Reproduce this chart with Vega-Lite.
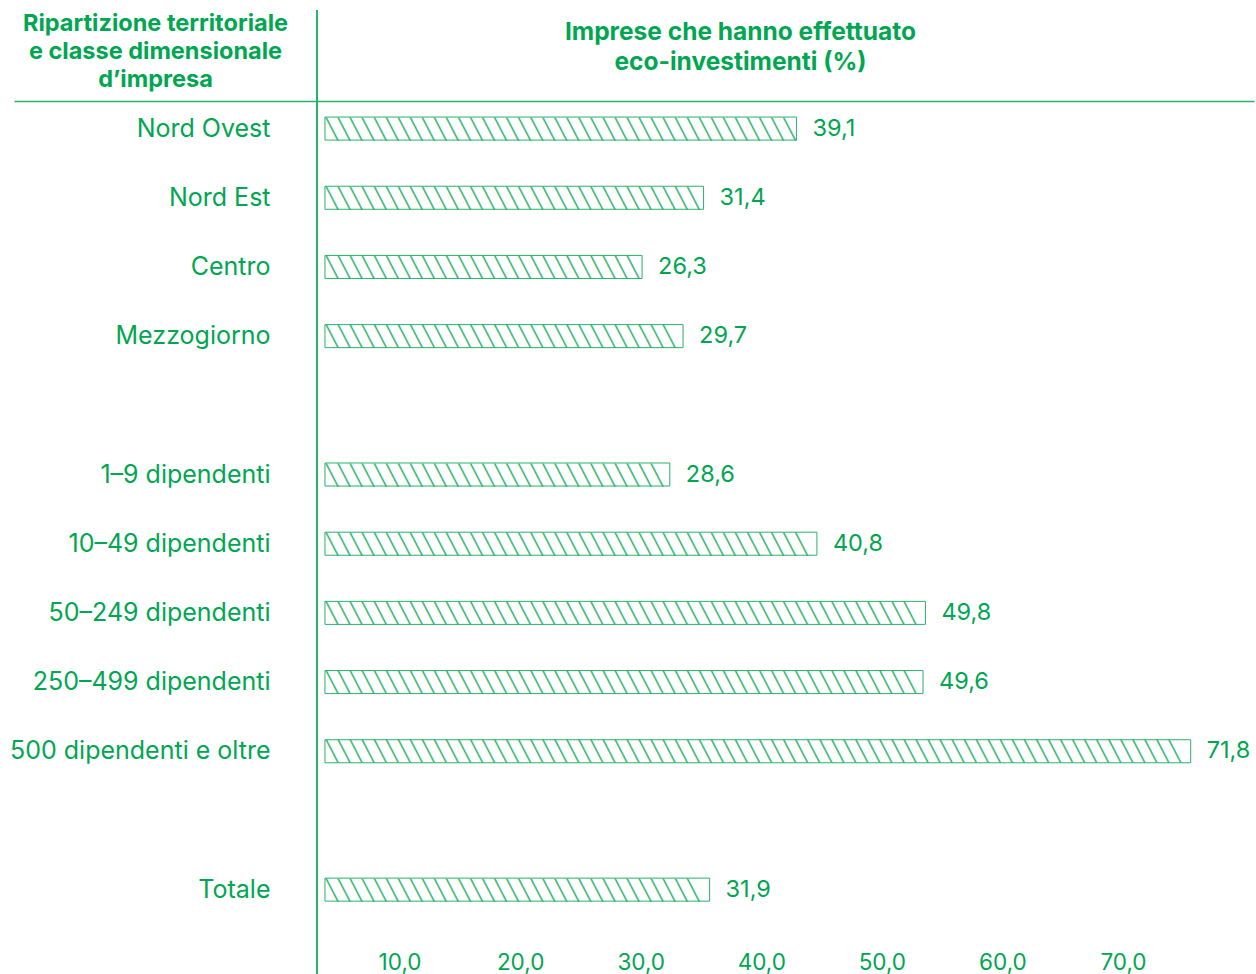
{
  "$schema": "https://vega.github.io/schema/vega-lite/v6.json",
  "width": 1240,
  "height": 964,
  "autosize": "none",
  "padding": {"left": 14, "top": 10, "right": 2, "bottom": 0},
  "background": "white",
  "config": {
    "view": {"stroke": null},
    "font": "Inter",
    "locale": {"number": {"decimal": ",", "thousands": ".", "grouping": [3], "currency": ["€", ""]}}
  },
  "data": {
    "values": [
      {"cat": "Nord Ovest", "v": 39.1},
      {"cat": "Nord Est", "v": 31.4},
      {"cat": "Centro", "v": 26.3},
      {"cat": "Mezzogiorno", "v": 29.7},
      {"cat": "1–9 dipendenti", "v": 28.6},
      {"cat": "10–49 dipendenti", "v": 40.8},
      {"cat": "50–249 dipendenti", "v": 49.8},
      {"cat": "250–499 dipendenti", "v": 49.6},
      {"cat": "500 dipendenti e oltre", "v": 71.8},
      {"cat": "Totale", "v": 31.9}
    ]
  },
  "encoding": {
    "y": {
      "field": "cat",
      "type": "nominal",
      "scale": {
        "domain": ["gap0", "Nord Ovest", "Nord Est", "Centro", "Mezzogiorno", "gap1", "1–9 dipendenti", "10–49 dipendenti", "50–249 dipendenti", "250–499 dipendenti", "500 dipendenti e oltre", "gap2", "Totale"],
        "paddingInner": 0.667,
        "paddingOuter": 0.8,
        "align": 0.342
      },
      "axis": {
        "orient": "left",
        "offset": -256,
        "domain": false,
        "ticks": false,
        "labelPadding": 0,
        "labelFontSize": 25,
        "labelColor": "#00a651",
        "labelFont": "Inter",
        "labelLimit": 400,
        "labelExpr": "indexof(datum.value, 'gap') == 0 ? '' : datum.value",
        "title": ["Ripartizione territoriale", "e classe dimensionale", "d’impresa"],
        "titleAngle": 0,
        "titleX": -115,
        "titleY": 20,
        "titleAlign": "center",
        "titleBaseline": "alphabetic",
        "titleLineHeight": 28,
        "titleFontSize": 23.5,
        "titleFontWeight": "bold",
        "titleColor": "#00a651",
        "titleFont": "Inter"
      }
    }
  },
  "layer": [
    {
      "mark": {"type": "rule", "color": "#27b36b", "strokeWidth": 1.5},
      "encoding": {"x": {"datum": -0.66, "type": "quantitative", "axis": null}, "y": null}
    },
    {
      "mark": {"type": "bar", "fill": "white", "stroke": "#27b36b", "strokeWidth": 1},
      "encoding": {
        "x": {
          "field": "v",
          "type": "quantitative",
          "scale": {"domain": [-25.79, 77.05], "nice": false, "zero": false},
          "axis": {
            "orient": "bottom",
            "values": [10, 20, 30, 40, 50, 60, 70],
            "format": ".1f",
            "domain": false,
            "ticks": false,
            "tickSize": 0,
            "grid": false,
            "offset": -23,
            "labelPadding": 0,
            "labelOffset": -46,
            "labelFontSize": 22.5,
            "labelColor": "#00a651",
            "labelFont": "Inter",
            "title": null
          }
        },
        "x2": {"datum": 0}
      }
    },
    {
      "mark": {
        "type": "text",
        "text": "╲╲╲╲╲╲╲╲╲╲╲╲╲╲╲╲╲╲╲╲╲╲╲╲╲╲╲╲╲╲╲╲╲╲╲╲╲╲╲╲╲╲╲╲╲╲╲╲╲╲╲╲╲╲╲╲╲╲╲╲╲╲╲╲╲╲╲╲╲╲╲╲╲╲╲╲╲╲╲╲",
        "font": "DejaVu Sans Mono",
        "fontSize": 20,
        "color": "#27b36b",
        "opacity": 0.9,
        "align": "left",
        "baseline": "alphabetic",
        "dx": 1,
        "dy": 7,
        "ellipsis": "\u200b",
        "limit": {"expr": "scale('x', datum.v) - scale('x', 0) - 1"}
      },
      "encoding": {
        "x": {"datum": 0, "type": "quantitative", "axis": null}
      }
    },
    {
      "mark": {"type": "text", "align": "left", "baseline": "middle", "dx": 16, "fontSize": 23.5, "color": "#00a651", "font": "Inter"},
      "encoding": {
        "x": {"field": "v", "type": "quantitative", "axis": null},
        "text": {"field": "v", "type": "quantitative", "format": ".1f"}
      }
    },
    {
      "mark": {"type": "rule", "opacity": 0},
      "encoding": {
        "x": {
          "datum": 0,
          "type": "quantitative",
          "axis": {
            "orient": "top",
            "offset": -91,
            "domain": true,
            "domainColor": "#27b36b",
            "domainWidth": 1.5,
            "labels": false,
            "ticks": false,
            "grid": false,
            "title": ["Imprese che hanno effettuato", "eco-investimenti (%)"],
            "titleX": 726,
            "titleY": -62,
            "titleAlign": "center",
            "titleBaseline": "alphabetic",
            "titleLineHeight": 30,
            "titleFontSize": 24.5,
            "titleFontWeight": "bold",
            "titleColor": "#00a651",
            "titleFont": "Inter"
          }
        }
      }
    }
  ],
  "resolve": {"axis": {"x": "independent"}}
}
